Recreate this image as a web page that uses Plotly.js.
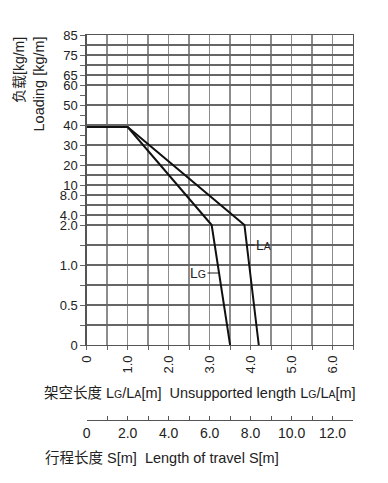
<!DOCTYPE html>
<html>
<head>
<meta charset="utf-8">
<script src="https://cdn.plot.ly/plotly-3.0.1.min.js"></script>
<style>
html,body{margin:0;padding:0;background:#fff;}
#chart{width:388px;height:483px;}
</style>
</head>
<body>
<div id="chart"></div>
<script>
// ---- data ----
const lgLength = [0, 1.0, 3.05, 3.5];      // LG unsupported length [m]
const lgLoad   = [39, 39, 2.0, 0];         // loading [kg/m]
const laLength = [0, 1.0, 3.85, 4.2];      // LA unsupported length [m]
const laLoad   = [39, 39, 2.0, 0];         // loading [kg/m]

const yGridValues = [0, 0.25, 0.5, 0.75, 1.0, 1.5, 2.0, 4.0, 6.0, 8.0, 10, 15, 20, 30, 40, 50, 60, 65, 70, 75, 80, 85];
const yGridLabels = ['0', '', '0.5', '', '1.0', '', '2.0', '4.0', '', '8.0', '10', '', '20', '30', '40', '50', '60', '65', '', '75', '', '85'];
const yMinorValues = [25, 35, 45, 55];

const xTickValues = [0, 0.5, 1, 1.5, 2, 2.5, 3, 3.5, 4, 4.5, 5, 5.5, 6, 6.5];
const xTickLabels = ['0', '', '1.0', '', '2.0', '', '3.0', '', '4.0', '', '5.0', '', '6.0', ''];

const sTickValues = [0, 1, 2, 3, 4, 5, 6, 7, 8, 9, 10, 11, 12, 13];
const sTickLabels = ['0', '', '2.0', '', '4.0', '', '6.0', '', '8.0', '', '10.0', '', '12.0', ''];

// ---- piecewise axis scale of the printed chart ----
const scaleValue = [0, 1, 2, 10, 85];
const scalePos   = [0, 8, 12, 16, 31];
function yPos(v) {
  for (let i = 1; i < scaleValue.length; i++) {
    if (v <= scaleValue[i]) {
      const t = (v - scaleValue[i-1]) / (scaleValue[i] - scaleValue[i-1]);
      return scalePos[i-1] + t * (scalePos[i] - scalePos[i-1]);
    }
  }
  return scalePos[scalePos.length - 1];
}

// plot area geometry in pixels (for paper-positioned texts)
const W = 388, H = 483, ML = 80, MR = 35, MT = 35, MB = 63;
const pw = W - ML - MR, ph = H - MT - MB;
const px = x => (x - ML) / pw;
const py = y => (H - MB - y) / ph;

const FONT = 'Liberation Sans, Arial, Noto Sans CJK SC, sans-serif';
const small = s => '<span style="font-size:10.5px">' + s + '</span>';

const traces = [
  {x: lgLength, y: lgLoad.map(yPos), mode: 'lines', line: {color: '#111', width: 2}, hoverinfo: 'skip', showlegend: false},
  {x: laLength, y: laLoad.map(yPos), mode: 'lines', line: {color: '#111', width: 2}, hoverinfo: 'skip', showlegend: false},
  {x: [0, 13], y: [null, null], xaxis: 'x2', yaxis: 'y', mode: 'lines', hoverinfo: 'skip', showlegend: false}
];

const layout = {
  width: W, height: H,
  margin: {l: ML, r: MR, t: MT, b: MB},
  paper_bgcolor: '#fff', plot_bgcolor: '#fff',
  font: {family: FONT, size: 13, color: '#222'},
  xaxis: {
    domain: [px(86.7), 1],
    range: [0, 6.5],
    tickmode: 'array', tickvals: xTickValues, ticktext: xTickLabels,
    tickangle: -90, ticks: 'outside', ticklen: 4, tickcolor: '#666',
    tickfont: {size: 13, color: '#222'},
    showgrid: true, gridcolor: '#8c8c8c', gridwidth: 1.5,
    showline: true, linecolor: '#555', linewidth: 1.3, mirror: true,
    zeroline: false, fixedrange: true
  },
  xaxis2: {
    overlaying: 'x', anchor: 'free', position: 0,
    domain: [px(83.3), px(346.7)],
    range: [0, 13],
    tickmode: 'array', tickvals: sTickValues, ticktext: sTickLabels,
    ticks: 'inside', ticklen: 4, tickcolor: '#555',
    tickfont: {size: 14, color: '#222'},
    showgrid: false, showline: true, linecolor: '#555', linewidth: 1.2,
    zeroline: false, fixedrange: true
  },
  yaxis: {
    domain: [py(345), 1],
    range: [0, 31],
    tickmode: 'array', tickvals: yGridValues.map(yPos), ticktext: yGridLabels,
    ticks: 'outside', ticklen: 5, tickcolor: '#666',
    tickfont: {size: 13, color: '#222'},
    minor: {tickmode: 'array', tickvals: yMinorValues.map(yPos), ticks: 'outside', ticklen: 5, tickcolor: '#666', showgrid: false},
    showgrid: true, gridcolor: '#666', gridwidth: 1.2,
    showline: true, linecolor: '#555', linewidth: 1.3, mirror: true,
    zeroline: false, fixedrange: true
  },
  annotations: [
    {xref: 'paper', yref: 'paper', x: px(19), y: py(35), xanchor: 'center', yanchor: 'top',
     text: '负载[kg/m]', textangle: -90, showarrow: false, font: {size: 14, color: '#222'}},
    {xref: 'paper', yref: 'paper', x: px(38), y: py(35), xanchor: 'center', yanchor: 'top',
     text: 'Loading [kg/m]', textangle: -90, showarrow: false, font: {size: 14.5, color: '#222'}},
    {xref: 'paper', yref: 'paper', x: px(200), y: py(393), xanchor: 'center', yanchor: 'middle',
     text: '架空长度 L' + small('G') + '/L' + small('A') + '[m]  Unsupported length L' + small('G') + '/L' + small('A') + '[m]',
     showarrow: false, font: {size: 14.5, color: '#222'}},
    {xref: 'paper', yref: 'paper', x: px(43), y: py(458), xanchor: 'left', yanchor: 'middle',
     text: '行程长度 S[m]  Length of travel S[m]', showarrow: false, font: {size: 14.5, color: '#222'}},
    {xref: 'x', yref: 'y', x: 3.93, y: yPos(1.5), text: 'L' + small('A'), showarrow: true,
     arrowhead: 0, arrowwidth: 1, arrowcolor: '#222', ax: 16, ay: 0, standoff: 0,
     font: {size: 14, color: '#222'}},
    {xref: 'x', yref: 'y', x: 3.23, y: yPos(0.9), text: 'L' + small('G'), showarrow: true,
     arrowhead: 0, arrowwidth: 1, arrowcolor: '#222', ax: -21, ay: 0, standoff: 0,
     font: {size: 14, color: '#222'}}
  ]
};

Plotly.newPlot('chart', traces, layout, {displayModeBar: false, staticPlot: true});
</script>
</body>
</html>
